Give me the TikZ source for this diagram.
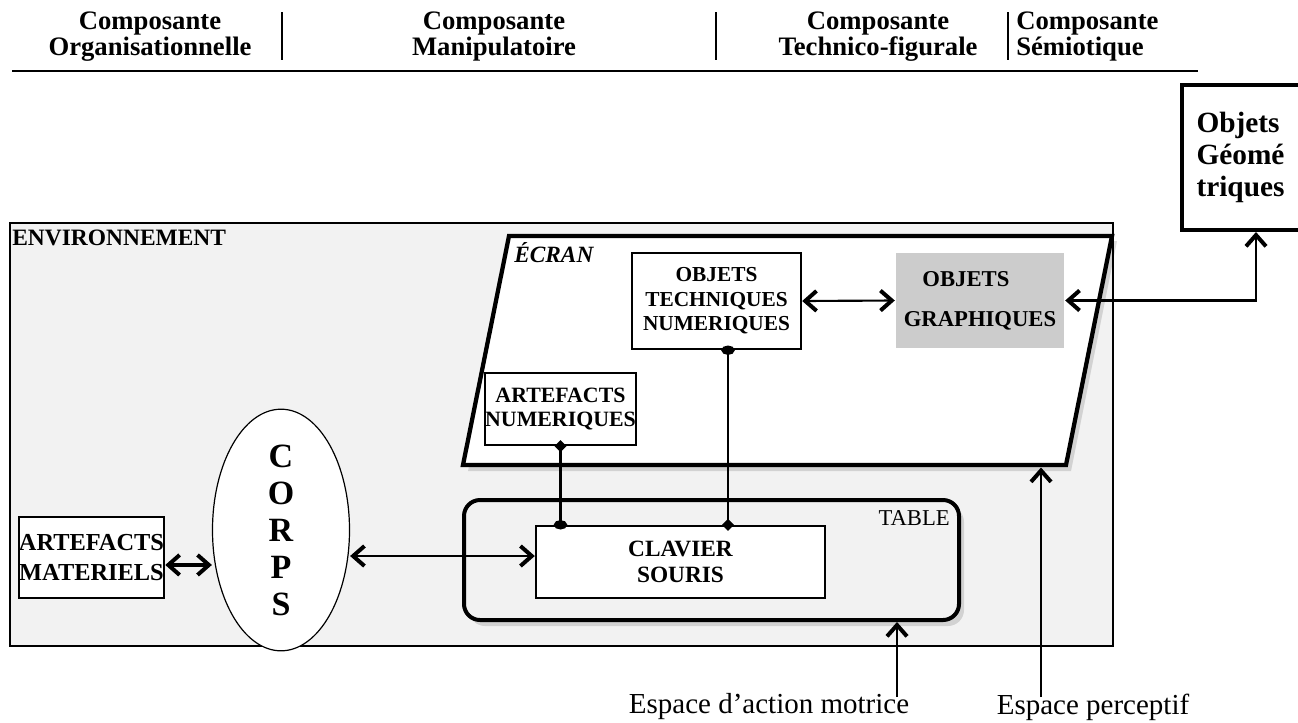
\documentclass[tikz,border=0pt]{standalone}
\usepackage{fontspec}
\setmainfont{Liberation Serif}
\usetikzlibrary{arrows.meta,shapes.geometric}
\begin{document}
\begin{tikzpicture}[x=0.75pt,y=-0.75pt,
  hdr/.style={font=\bfseries\fontsize{20}{19.5}\selectfont, align=center, inner sep=0},
  box/.style={draw, line width=1.8pt, fill=white, inner sep=0, align=center, font=\bfseries\fontsize{16}{18.4}\selectfont},
  conn/.style={line width=1.6pt},
  barb/.tip={Straight Barb[length=8.5pt,width=15pt,line width=3pt]},
  dbl/.style={conn, barb-barb},
  up/.style={conn, -barb},
  dotdia/.style={conn, {Circle[length=7pt,width=10pt]}-{Diamond[length=9pt,width=9pt]}},
  diadot/.style={conn, {Diamond[length=9pt,width=9pt]}-{Circle[length=7pt,width=10pt]}},
  shade/.style={fill=black, opacity=0.13},
]
\useasboundingbox (0,0) rectangle (1298,722);
\fill[white] (0,0) rectangle (1298,722);

% header
\node[hdr] (h1) at (150,37) {Composante\\Organisationnelle};
\node[hdr] (h2) at (494,37) {Composante\\Manipulatoire};
\node[hdr] (h3) at (878,37) {Composante\\Technico-figurale};
\node[hdr, align=left, anchor=west] (h4) at (1016,37) {Composante\\Sémiotique};
\draw[line width=1pt] (282,12) -- (282,60);
\draw[line width=1pt] (716,12) -- (716,60);
\draw[line width=1pt] (1008,12) -- (1008,60);
\draw[line width=2.2pt] (12,71) -- (1198,71);

% environment
\node[draw, line width=1.1pt, fill=gray!10, minimum width=1103*0.75pt, minimum height=423*0.75pt, inner sep=0] (env) at (561.5,434.5) {};
\node[font=\bfseries\fontsize{17.6}{20}\selectfont, anchor=west, inner sep=0] (envlbl) at (12,238) {ENVIRONNEMENT};

% geometric objects
\node[draw, line width=3pt, fill=white, minimum width=125*0.75pt, minimum height=145*0.75pt, inner sep=0, align=left, text width=96*0.75pt, font=\bfseries\fontsize{22}{24}\selectfont] (geo) at (1244.5,157.5) {Objets\\Géomé\\triques};

% screen
\fill[shade] (514,241) -- (1117,241) -- (1071,471) -- (468,471) -- cycle;
\draw[line width=3.2pt, fill=white] (509,236) -- (1112,236) -- (1066,465) -- (463,465) -- cycle;
\node[font=\bfseries\itshape\fontsize{17.5}{20}\selectfont, anchor=west, inner sep=0] (ecranlbl) at (514,253) {ÉCRAN};

% table
\fill[shade, rounded corners=12pt] (469,506) rectangle (964,626);
\node[draw, line width=3pt, rounded corners=12pt, fill=gray!10, minimum width=495*0.75pt, minimum height=120*0.75pt, inner sep=0] (table) at (711.5,560) {};
\node[font=\fontsize{17}{20}\selectfont, anchor=east, inner sep=0] (tablelbl) at (950,518) {TABLE};

% boxes
\node[box, minimum width=169*0.75pt, minimum height=96*0.75pt] (otn) at (716.5,301) {OBJETS\\TECHNIQUES\\NUMERIQUES};
\node[box, draw=none, fill=gray!40, align=left, minimum width=168*0.75pt, minimum height=95*0.75pt, font=\bfseries\fontsize{17}{30}\selectfont] (og) at (980,300.5) {\hspace*{14pt}OBJETS\\GRAPHIQUES};
\node[box, minimum width=145*0.75pt, minimum height=72*0.75pt, font=\bfseries\fontsize{16.4}{18.5}\selectfont] (an) at (560.5,409) {ARTEFACTS\\NUMERIQUES};
\node[box, minimum width=289*0.75pt, minimum height=72*0.75pt, font=\bfseries\fontsize{17.5}{19.5}\selectfont] (clav) at (680.5,562) {CLAVIER\\SOURIS};
\node[box, minimum width=145*0.75pt, minimum height=81*0.75pt, font=\bfseries\fontsize{18.3}{22}\selectfont] (am) at (91.5,557.5) {ARTEFACTS\\MATERIELS};
\node[draw, ellipse, line width=0.9pt, fill=white, minimum width=137*0.75pt, minimum height=208*0.75pt, inner sep=0, align=center, font=\bfseries\fontsize{25.5}{27.75}\selectfont] (corps) at (281,530) {C\\O\\R\\P\\S};

% bottom labels
\node[font=\fontsize{21.75}{24}\selectfont, inner sep=0] (eam) at (769,707) {Espace d’action motrice};
\node[font=\fontsize{21.75}{24}\selectfont, inner sep=0] (ep) at (1093,707) {Espace perceptif};

% connectors
\draw[dbl, line width=2.8pt] ([yshift=-5.6pt]am.east) -- ([yshift=-5.6pt]am.east -| corps.west);
\draw[dbl] ([yshift=4.5pt]clav.west -| corps.east) -- ([yshift=4.5pt]clav.west);
\draw[dbl] (otn.east) -- (og.west);
\coordinate (c1) at (1256,300.5);
\draw[dbl] (og.east) -- (c1) -- (c1 |- geo.south);
\coordinate (v2) at (728,0);
\draw[dotdia, shorten <=-3.5pt, shorten >=-4.5pt] (otn.south -| v2) -- (clav.north -| v2);
\draw[diadot, shorten <=-4.5pt, shorten >=-3.5pt] (an.south) -- (an.south |- clav.north);
\coordinate (a1) at (897,697);
\draw[up] (a1) -- (a1 |- table.south);
\coordinate (a2) at (1041,697);
\coordinate (ecb) at (1041,467.5);
\draw[up] (a2) -- (ecb);
\end{tikzpicture}
\end{document}
